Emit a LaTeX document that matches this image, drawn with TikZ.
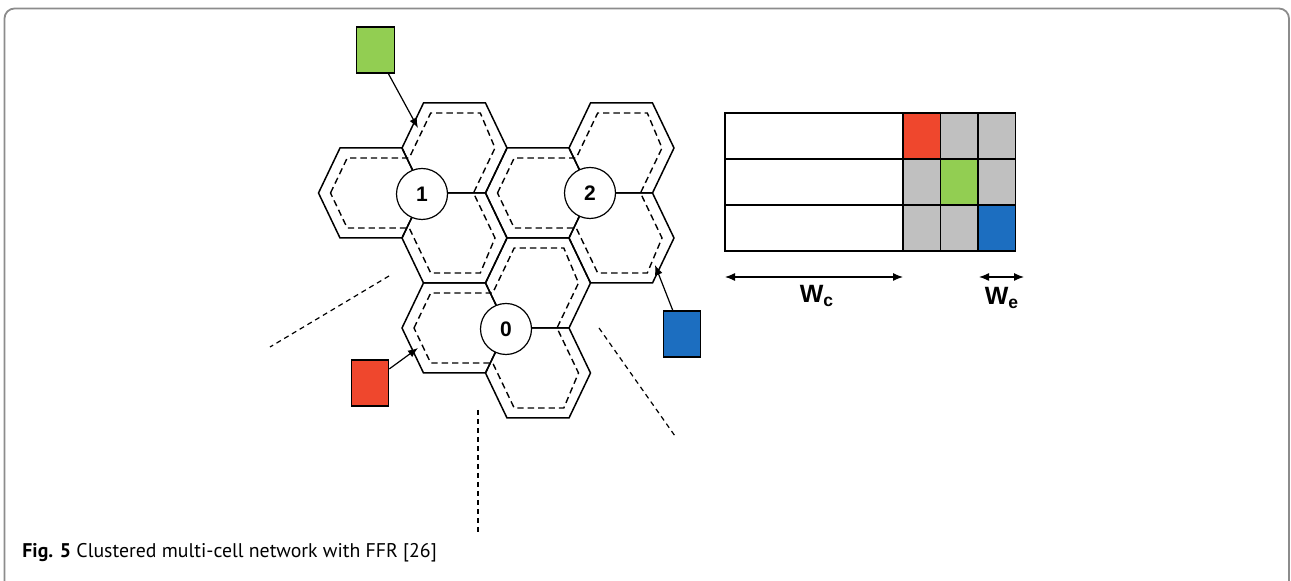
\documentclass[tikz,border=0pt]{standalone}
\usepackage{fontspec}
\setsansfont{Liberation Sans}
\newfontfamily\captionfont{PT Sans}
\usetikzlibrary{arrows.meta}
\definecolor{ffrred}{RGB}{239,71,45}
\definecolor{ffrgreen}{RGB}{146,206,82}
\definecolor{ffrblue}{RGB}{28,110,192}
\definecolor{ffrgray}{RGB}{192,192,192}
\definecolor{framegray}{RGB}{140,140,140}

\begin{document}
\begin{tikzpicture}[x=0.5pt,y=-0.5pt,
    cell/.style={line width=0.75pt},
    cellinner/.style={line width=0.7pt,dash pattern=on 3.2pt off 2pt},
    sectorline/.style={line width=0.6pt,dash pattern=on 2.5pt off 2pt},
    bs/.style={circle,draw,fill=white,line width=0.6pt,minimum size=25.5pt,inner sep=0pt,
      font=\sffamily\bfseries\fontsize{10.5}{12}\selectfont},
    ue/.style={rectangle,draw,line width=0.6pt,minimum width=18.75pt,minimum height=23pt,inner sep=0pt},
    pointer/.style={-{Latex[length=5pt,width=4pt]},line width=0.6pt},
    band/.style={draw,line width=0.6pt},
    widtharrow/.style={{Latex[length=5pt,width=4pt]}-{Latex[length=5pt,width=4pt]},line width=0.6pt},
    wlabel/.style={font=\sffamily\bfseries\fontsize{12.5}{14}\selectfont,inner sep=0pt}]

          \useasboundingbox (0,0) rectangle (1291,581);
          \draw[framegray,line width=0.9pt,rounded corners=5pt] (4.5,600) -- (4.5,8.5) -- (1289,8.5) -- (1289,600);

          % three sectors per cluster, one dashed cell-centre border around each cluster
          \foreach \cx/\cy in {371/193,538/193,454.5/328}
          {
            \foreach \dx/\dy in {0/0,83.5/-45,83.5/45}
            {
              \draw[cell] (\cx+\dx-52.5,\cy+\dy) -- ++(21.5,-45) -- ++(62,0) -- ++(21.5,45)
                -- ++(-21.5,45) -- ++(-62,0) -- cycle;
            }
            \draw[cellinner] (\cx-40.5,\cy) -- (\cx-23.8,\cy-35) -- (\cx+38.2,\cy-35) -- (\cx+59.7,\cy-80)
              -- (\cx+109.3,\cy-80) -- (\cx+124,\cy-45) -- (\cx+102.5,\cy) -- (\cx+124,\cy+45)
              -- (\cx+109.3,\cy+80) -- (\cx+59.7,\cy+80) -- (\cx+38.2,\cy+35) -- (\cx-23.8,\cy+35) -- cycle;
          }

          \draw[sectorline] (389,276) -- (270,347);
          \draw[sectorline] (478,410) -- (478,532);
          \draw[sectorline] (599,328) -- (675,436);

          \foreach \n/\x/\y in {1/422/194,2/590/193,0/506/329}
          {
            \node[bs] (bs\n) at (\x,\y) {\n};
          }

          % edge users and the sector they sit in
          \node[ue,fill=ffrgreen] (ue1) at (375.5,50) {};
          \node[ue,fill=ffrblue] (ue2) at (682,334) {};
          \node[ue,fill=ffrred] (ue0) at (370,383) {};
          \coordinate (tip1) at (418,128);
          \coordinate (tip2) at (655,265);
          \coordinate (tip0) at (418,348);
          \foreach \n in {0,1,2}
          {
            \draw[pointer] (ue\n) -- (tip\n);
          }

          % bandwidth split: common part and one edge band per cluster
          \foreach \r/\col in {0/ffrred,1/ffrgreen,2/ffrblue}
          {
            \draw[band] (725,113+46*\r) rectangle ++(178,46);
            \foreach \c in {0,1,2}
            {
              \ifnum\c=\r \def\fillcol{\col}\else\def\fillcol{ffrgray}\fi
              \draw[band,fill=\fillcol] (903+37.5*\c,113+46*\r) rectangle ++(37.5,46);
            }
          }

          \coordinate (wcl) at (725,277);
          \coordinate (wcr) at (903,277);
          \coordinate (wel) at (979,277);
          \coordinate (wer) at (1024,277);
          \draw[widtharrow] (wcl) -- (wcr);
          \draw[widtharrow] (wel) -- (wer);
          \node[wlabel] (wc) at (817,296) {W\textsubscript{c}};
          \node[wlabel] (we) at (1002,298) {W\textsubscript{e}};

          \node[anchor=base west,inner sep=0pt,font=\captionfont\fontsize{9.9}{12}\selectfont] (caption)
            at (22,558) {\textbf{Fig. 5} Clustered multi-cell network with FFR [26]};

         \end{tikzpicture}
\end{document}
